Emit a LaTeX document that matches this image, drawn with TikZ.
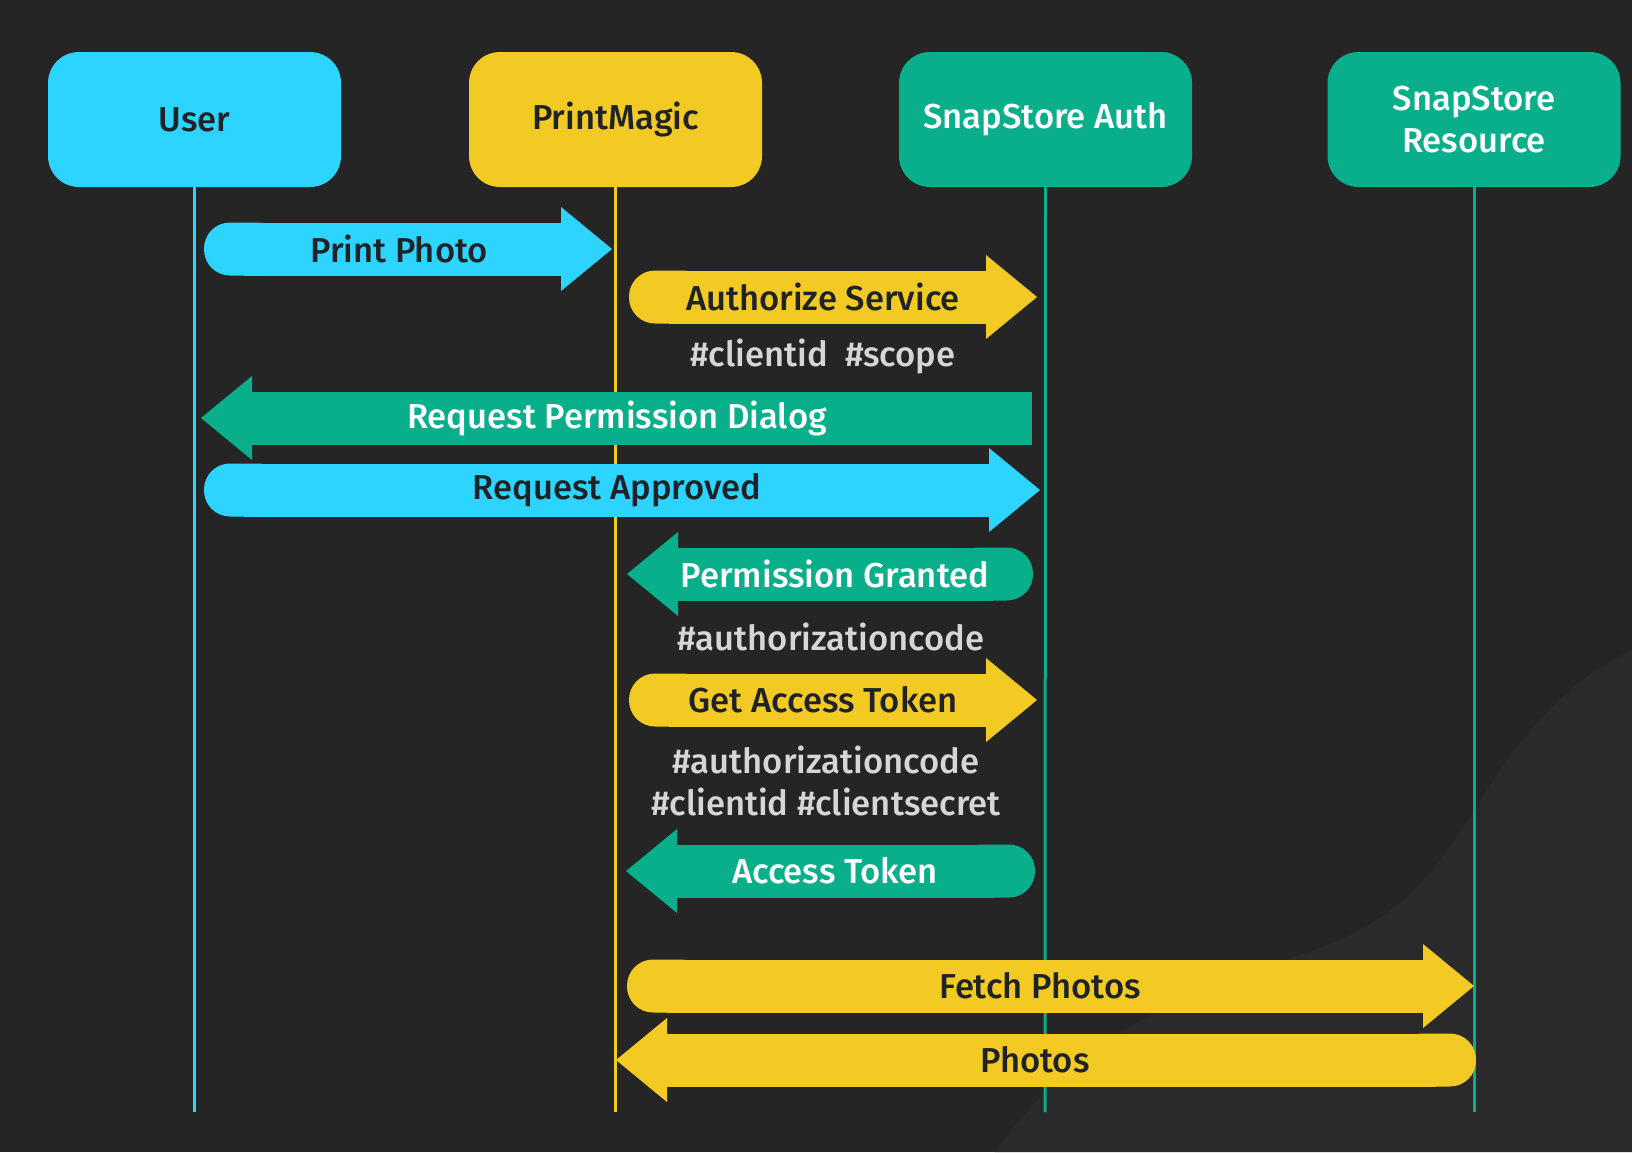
\documentclass[tikz,border=0pt]{standalone}
\usepackage{fontspec}
\setmainfont{Fira Sans Medium}
\definecolor{bgc}{HTML}{252525}
\definecolor{bgl}{HTML}{2A2A2A}
\definecolor{cy}{HTML}{2DD4FD}
\definecolor{ye}{HTML}{F2CA23}
\definecolor{gr}{HTML}{09AE8B}
\definecolor{dk}{HTML}{1F2226}
\definecolor{ann}{HTML}{D6D6D6}
% right-pointing arrow, rounded tail: color, x tail, x tip, y
\newcommand\seqR[4]{%
  \fill[#1,rounded corners=13pt] (#2,{#4-26.5}) rectangle ({#2+80},{#4+26.5});
  \fill[#1] ({#2+40},{#4-26.5}) rectangle ({#3-50},{#4+26.5});
  \fill[#1] ({#3-51},{#4-42}) -- (#3,#4) -- ({#3-51},{#4+42}) -- cycle;}
% left-pointing arrow, rounded tail: color, x tip, x tail, y
\newcommand\seqL[4]{%
  \fill[#1,rounded corners=13pt] ({#3-80},{#4-26.5}) rectangle (#3,{#4+26.5});
  \fill[#1] ({#2+50},{#4-26.5}) rectangle ({#3-40},{#4+26.5});
  \fill[#1] ({#2+51},{#4-42}) -- (#2,#4) -- ({#2+51},{#4+42}) -- cycle;}
% left-pointing arrow, square tail
\newcommand\seqLs[4]{%
  \fill[#1] ({#2+50},{#4-26.5}) rectangle (#3,{#4+26.5});
  \fill[#1] ({#2+51},{#4-42}) -- (#2,#4) -- ({#2+51},{#4+42}) -- cycle;}
\begin{document}
\begin{tikzpicture}[x=0.5pt,y=-0.5pt,
  txt/.style={font=\fontsize{17.3}{21}\selectfont, inner sep=0pt, anchor=center, align=center},
  actor/.style={txt, rounded corners=15.5pt, minimum width=146.5pt, minimum height=67.5pt},
  life/.style={line width=1.5pt},
  onlight/.style={txt, text=dk},
  ondark/.style={txt, text=white},
  note/.style={txt, text=ann}]
\fill[bgc] (0,0) rectangle (1632,1152);
\useasboundingbox (0,0) rectangle (1632,1152);
\fill[bgl] (995,1152) .. controls (1060,1060) and (1150,1000) .. (1300,955)
  .. controls (1420,915) and (1440,860) .. (1500,770)
  .. controls (1550,700) and (1590,670) .. (1632,650) -- (1632,1152) -- cycle;

% actors
\node[actor, fill=cy, text=dk] (user) at (194.5,119.5) {User};
\node[actor, fill=ye, text=dk] (pm) at (615.5,119.5) {PrintMagic};
\node[actor, fill=gr, text=white] (auth) at (1045.5,119.5) {SnapStore Auth};
\node[actor, fill=gr, text=white] (res) at (1474,119.5) {SnapStore\\Resource};

% lifelines (behind the messages)
\coordinate (userend) at (194.5,1112);
\coordinate (pmend) at (615.5,1112);
\coordinate (authend) at (1045,1112);
\coordinate (resend) at (1474,1112);
\draw[life, cy] (user.south) -- (userend);
\draw[life, ye] (pm.south) -- (pmend);
\draw[life, gr] (auth.south) -- (authend);
\draw[life, gr] (res.south) -- (resend);

% messages
\seqR{cy}{204}{612}{249}
\seqR{ye}{629}{1037}{297}
\seqLs{gr}{201}{1032}{418}
\seqR{cy}{204}{1040}{490}
\seqL{gr}{627}{1033}{574}
\seqR{ye}{629}{1037}{700}
\seqL{gr}{626}{1035}{871}
\seqR{ye}{627}{1474}{986}
\seqL{ye}{616}{1476}{1060}

% labels
\node[onlight] (m1) at (399,249) {Print Photo};
\node[onlight] (m2) at (823,297) {Authorize Service};
\node[note] (n2) at (823,356) {\#clientid\ \ \#scope};
\node[ondark] (m3) at (617,418) {Request Permission Dialog};
\node[onlight] (m4) at (617,490) {Request Approved};
\node[ondark] (m5) at (835,574) {Permission Granted};
\node[note] (n5) at (831,637) {\#authorizationcode};
\node[onlight] (m6) at (823,700) {Get Access Token};
\node[note] (n6) at (826,781) {\#authorizationcode\\\#clientid \#clientsecret};
\node[ondark] (m7) at (835,871) {Access Token};
\node[onlight] (m8) at (1040,986) {Fetch Photos};
\node[onlight] (m9) at (1035,1060) {Photos};
\end{tikzpicture}
\end{document}
